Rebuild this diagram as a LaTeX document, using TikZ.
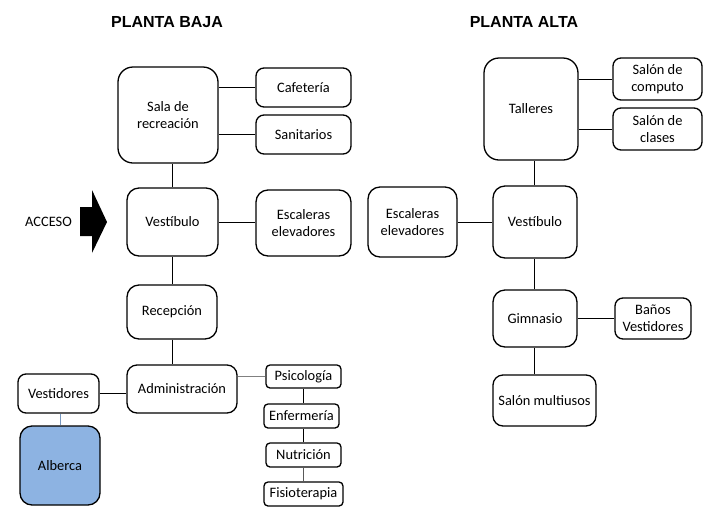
\documentclass[tikz,border=0pt]{standalone}
\usepackage{fontspec}
\newfontfamily\bxfont{Carlito}
\newfontfamily\ttlfont{Liberation Sans}
\definecolor{pool}{HTML}{8DB3E2}
\begin{document}
\begin{tikzpicture}[x=1pt,y=-1pt,
  bx/.style={draw, line width=1.3pt, rounded corners=#1, inner sep=0pt, align=center,
    font=\bxfont\fontsize{14.4}{17}\selectfont},
  bx/.default=8pt,
  link/.style={line width=1pt},
  ttl/.style={font=\ttlfont\bfseries\fontsize{16}{19}\selectfont, inner sep=0pt}]
\useasboundingbox (0,0) rectangle (713,507);
% titles
\node[ttl] (t1) at (167,22) {PLANTA BAJA};
\node[ttl] (t2) at (524,22) {PLANTA ALTA};
% planta baja
\node[bx=15pt, minimum width=100pt, minimum height=96pt] (sala) at (168,115) {Sala de\\recreación};
\node[bx, minimum width=95pt, minimum height=39pt] (cafe) at (303.5,87.5) {Cafetería};
\node[bx, minimum width=95pt, minimum height=39pt] (sanit) at (303.5,134.5) {Sanitarios};
\node[bx=12pt, minimum width=91pt, minimum height=68pt] (vest1) at (172.5,222) {Vestíbulo};
\node[bx=12pt, minimum width=95pt, minimum height=66pt] (esc1) at (303.5,223) {Escaleras\\elevadores};
\node[bx=12pt, minimum width=90pt, minimum height=54pt] (recep) at (172,312) {Recepción};
\node[bx=10pt, minimum width=110pt, minimum height=48pt] (admin) at (182,389) {Administración};
\node[bx, minimum width=81pt, minimum height=39pt] (vestid) at (58.5,393.5) {Vestidores};
\node[bx=12pt, fill=pool, minimum width=80pt, minimum height=79pt] (alb) at (60,465.5) {Alberca};
\node[bx=4pt, minimum width=75pt, minimum height=23pt] (psico) at (303.5,376.5) {Psicología};
\node[bx=4pt, minimum width=75pt, minimum height=24pt] (enf) at (301.5,416) {Enfermería};
\node[bx=4pt, minimum width=75pt, minimum height=24pt] (nutri) at (303.5,455) {Nutrición};
\node[bx=4pt, minimum width=79pt, minimum height=24pt] (fisio) at (303.5,494) {Fisioterapia};
\node[font=\bxfont\fontsize{14.4}{17}\selectfont, inner sep=0pt] (acc) at (48.5,222) {ACCESO};
\coordinate (a1) at (80,207);
\fill (a1) -- (92,207) -- (92,190) -- (107,222) -- (92,253) -- (92,236) -- (80,236) -- cycle;
% links planta baja
\draw[link] (cafe.west) -- (cafe.west -| sala.east);
\draw[link] (sanit.west) -- (sanit.west -| sala.east);
\draw[link] (vest1.north) -- (vest1.north |- sala.south);
\draw[link] (vest1.east) -- (vest1.east -| esc1.west);
\draw[link] (recep.north) -- (recep.north |- vest1.south);
\draw[link] (recep.south) -- (recep.south |- admin.north);
\draw[link] (vestid.east) -- (vestid.east -| admin.west);
\draw[link, pool!85!black] (alb.north) -- (alb.north |- vestid.south);
\draw[link, gray] (psico.west) -- (psico.west -| admin.east);
\draw[link] (psico.south) -- (psico.south |- enf.north);
\draw[link] (nutri.north) -- (nutri.north |- enf.south);
\draw[link, gray!70!black] (nutri.south) -- (nutri.south |- fisio.north);
% planta alta
\node[bx=15pt, minimum width=94pt, minimum height=102pt] (tall) at (531,109) {Talleres};
\node[bx, minimum width=89pt, minimum height=42pt] (comp) at (657.5,79) {Salón de\\computo};
\node[bx, minimum width=89pt, minimum height=42pt] (clas) at (657.5,129) {Salón de\\clases};
\node[bx=12pt, minimum width=84pt, minimum height=72pt] (vest2) at (535,222) {Vestíbulo};
\node[bx=12pt, minimum width=89pt, minimum height=70pt] (esc2) at (412.5,222) {Escaleras\\elevadores};
\node[bx=12pt, minimum width=84pt, minimum height=57pt] (gim) at (535,318.5) {Gimnasio};
\node[bx, minimum width=76pt, minimum height=41pt] (banos) at (653,318.5) {Baños\\Vestidores};
\node[bx=10pt, minimum width=103pt, minimum height=51pt] (multi) at (544.5,400.5) {Salón multiusos};
% links planta alta
\draw[link] (comp.west) -- (comp.west -| tall.east);
\draw[link] (clas.west) -- (clas.west -| tall.east);
\draw[link] (vest2.north -| 534,0) -- (534,0 |- tall.south);
\draw[link] (esc2.east) -- (esc2.east -| vest2.west);
\draw[link] (gim.north -| 534,0) -- (534,0 |- vest2.south);
\draw[link] (banos.west) -- (banos.west -| gim.east);
\draw[link] (multi.north -| 534,0) -- (534,0 |- gim.south);
\end{tikzpicture}
\end{document}
